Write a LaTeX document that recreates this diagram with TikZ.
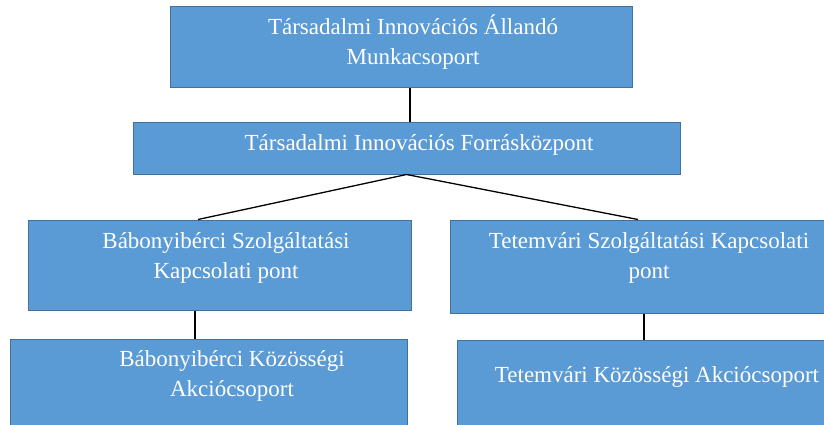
\documentclass[tikz,border=0pt]{standalone}
\usepackage{fontspec}
\setmainfont{Liberation Serif}
\usetikzlibrary{positioning}

\definecolor{boxfill}{RGB}{91,155,213}
\definecolor{boxline}{RGB}{65,113,156}

\begin{document}
\begin{tikzpicture}[
  x=1pt, y=-1pt,
  box/.style={draw=boxline, fill=boxfill, line width=1pt, inner sep=0pt},
  txt/.style={text=white, align=center, inner sep=0pt, font=\fontsize{23}{30}\selectfont},
  link/.style={draw=black, line width=1.3pt}
]
  \useasboundingbox (0,0) rectangle (824,425);
  \clip (0,0) rectangle (824,425);

  % boxes
  \node[box, minimum width=462pt, minimum height=81pt] (sam) at (401,47.5) {};
  \node[box, minimum width=547pt, minimum height=51pt] (tifk) at (406.5,148.5) {};
  \node[box, minimum width=383pt, minimum height=90pt] (bszk) at (219.5,265) {};
  \node[box, minimum width=380pt, minimum height=93pt] (tszk) at (640,266.5) {};
  \node[box, minimum width=397pt, minimum height=131pt] (bka) at (208.5,404.5) {};
  \node[box, minimum width=383pt, minimum height=130pt] (tka) at (648.5,405) {};

  % texts
  \node[txt] (sam-t) at (413,42.5) {Társadalmi Innovációs Állandó\\Munkacsoport};
  \node[txt] (tifk-t) at (419,145) {Társadalmi Innovációs Forrásközpont};
  \node[txt] (bszk-t) at (226,257.5) {Bábonyibérci Szolgáltatási\\Kapcsolati pont};
  \node[txt] (tszk-t) at (649,258) {Tetemvári Szolgáltatási Kapcsolati\\pont};
  \node[txt] (bka-t) at (232,375.5) {Bábonyibérci Közösségi\\Akciócsoport};
  \node[txt] (tka-t) at (657,377) {Tetemvári Közösségi Akciócsoport};

  % connectors
  \draw[link] ([xshift=9pt]sam.south) -- ([xshift=9pt]sam.south |- tifk.north);
  \draw[link] (tifk.south) -- ([xshift=-21.5pt]bszk.north);
  \draw[link] (tifk.south) -- ([xshift=-2pt]tszk.north);
  \draw[link] ([xshift=-24.5pt]bszk.south) -- ([xshift=-24.5pt]bszk.south |- bka.north);
  \draw[link] ([xshift=4pt]tszk.south) -- ([xshift=4pt]tszk.south |- tka.north);
\end{tikzpicture}
\end{document}
